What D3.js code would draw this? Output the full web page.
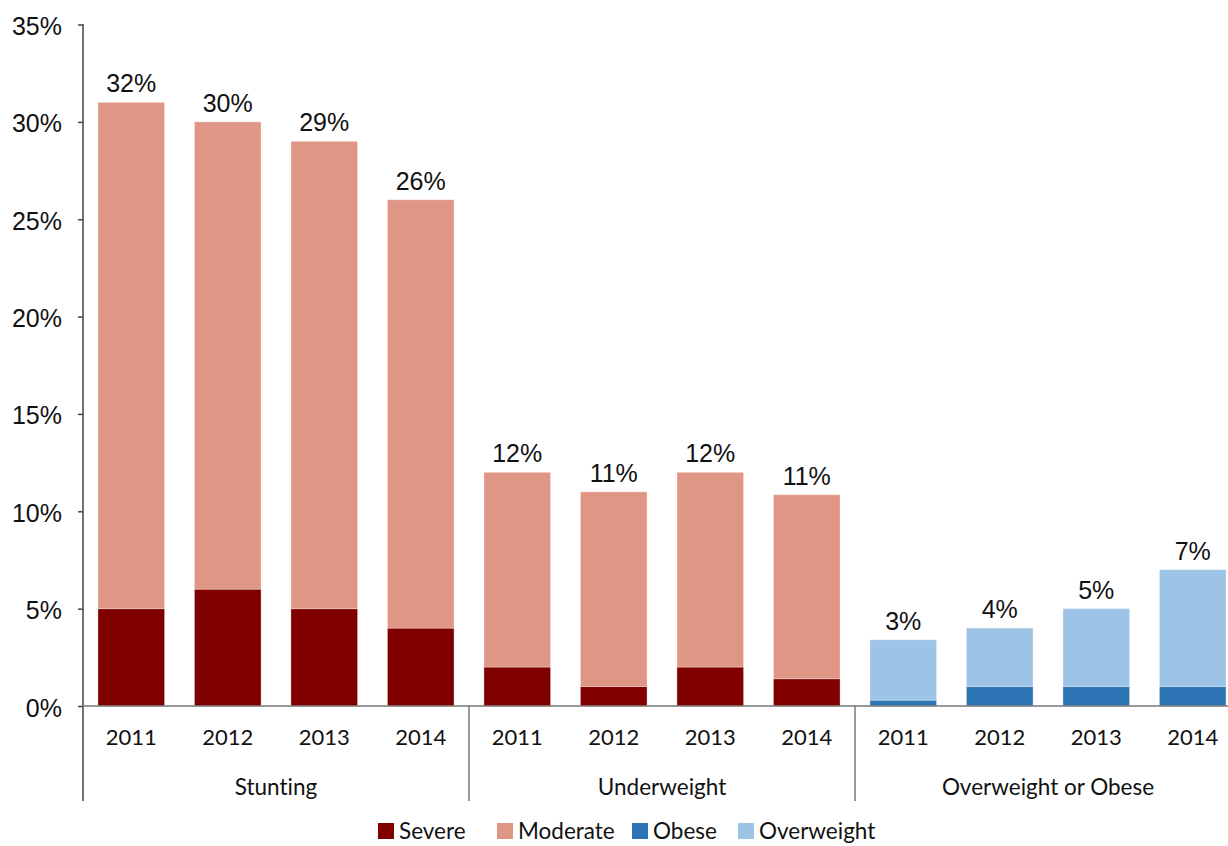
<!DOCTYPE html>
<html><head><meta charset="utf-8">
<script src="https://cdn.jsdelivr.net/npm/d3@7"></script>
<style>body{margin:0;background:#fff;overflow:hidden} text{font-variant-ligatures:none;font-feature-settings:"liga" 0}</style>
</head><body>
<svg id="c" width="1228" height="846"></svg>
<script>
const groups = ["Stunting","Underweight","Overweight or Obese"];
const years = ["2011","2012","2013","2014"];
const severe = [5,6,5,4, 2,1,2,1.4];
const moderate = [26,24,24,22, 10,10,10,9.45];
const obese = [0.3,1,1,1];
const overweight = [3.1,3,4,6];
const totalLabels = ["32%","30%","29%","26%","12%","11%","12%","11%","3%","4%","5%","7%"];
const yTicks = [0,5,10,15,20,25,30,35];
const legendItems = ["Severe","Moderate","Obese","Overweight"];
const colors = {Severe:"#800000",Moderate:"#e09684",Obese:"#2e75b6",Overweight:"#9dc3e6"};

const svg = d3.select("#c");
const y = d3.scaleLinear().domain([0,35]).range([706,24.5]);
const keys = [];
groups.forEach(g=>years.forEach(yr=>keys.push(g+"|"+yr)));
const x = d3.scaleBand().domain(keys).range([83,1241]).paddingInner(0.31).paddingOuter(0.155);

const rows = keys.map((k,i)=>{
  if(i<8) return {k, parts:[{n:"Severe",v:severe[i]},{n:"Moderate",v:moderate[i]}]};
  return {k, parts:[{n:"Obese",v:obese[i-8]},{n:"Overweight",v:overweight[i-8]}]};
});
rows.forEach((r,i)=>{
  let acc=0;
  r.parts.forEach(p=>{
    svg.append("rect").attr("x",x(r.k)).attr("width",x.bandwidth())
      .attr("y",y(acc+p.v)).attr("height",y(acc)-y(acc+p.v))
      .attr("fill",colors[p.n]).attr("stroke","#fff").attr("stroke-opacity",0.3).attr("stroke-width",1);
    acc+=p.v;
  });
  svg.append("text").attr("x",x(r.k)+x.bandwidth()/2).attr("y",y(acc)-10)
    .attr("text-anchor","middle").attr("font-family","Liberation Sans, Arial, sans-serif")
    .attr("font-size",25).attr("fill","#111").text(totalLabels[i]);
});

const yAxis = d3.axisLeft(y).tickValues(yTicks).tickFormat(d=>d+"%").tickSize(5).tickPadding(16);
const ga = svg.append("g").attr("transform","translate(83,0)").call(yAxis);
ga.select(".domain").remove();
ga.selectAll(".tick line").attr("stroke","#444").attr("stroke-width",1.5);
ga.selectAll(".tick text").attr("font-family","Liberation Sans, Arial, sans-serif").attr("font-size",25).attr("fill","#111").attr("dy","0.4em");
svg.append("line").attr("x1",83).attr("x2",83).attr("y1",24).attr("y2",801).attr("stroke","#444").attr("stroke-width",1.5);
svg.append("line").attr("x1",83).attr("x2",1241).attr("y1",y(0)).attr("y2",y(0)).attr("stroke","#777").attr("stroke-width",1.5);

const xAxis = d3.axisBottom(x).tickFormat(k=>k.split("|")[1]).tickSize(0).tickPadding(23);
const gx = svg.append("g").attr("transform","translate(0,"+y(0)+")").call(xAxis);
gx.select(".domain").remove();
gx.selectAll(".tick text").attr("font-family","Lato, Carlito, Calibri, sans-serif").attr("font-size",22).attr("fill","#111");

const step = x.step();
groups.forEach((g,gi)=>{
  const x0 = 83 + gi*4*step;
  if(gi>0) svg.append("line").attr("x1",x0).attr("x2",x0).attr("y1",y(0)).attr("y2",801).attr("stroke","#777").attr("stroke-width",1.5);
  svg.append("text").attr("x",x0+2*step).attr("y",795).attr("text-anchor","middle")
    .attr("font-family","Lato, Carlito, Calibri, sans-serif").attr("font-size",22.5).attr("fill","#111").text(g);
});

const legendX = [378,497,632,738];
legendItems.forEach((n,i)=>{
  svg.append("rect").attr("x",legendX[i]).attr("y",823).attr("width",16).attr("height",16).attr("fill",colors[n]);
  svg.append("text").attr("x",legendX[i]+21).attr("y",839).attr("font-family","Lato, Carlito, Calibri, sans-serif")
    .attr("font-size",22.5).attr("fill","#111").text(n);
});
</script>
</body></html>
